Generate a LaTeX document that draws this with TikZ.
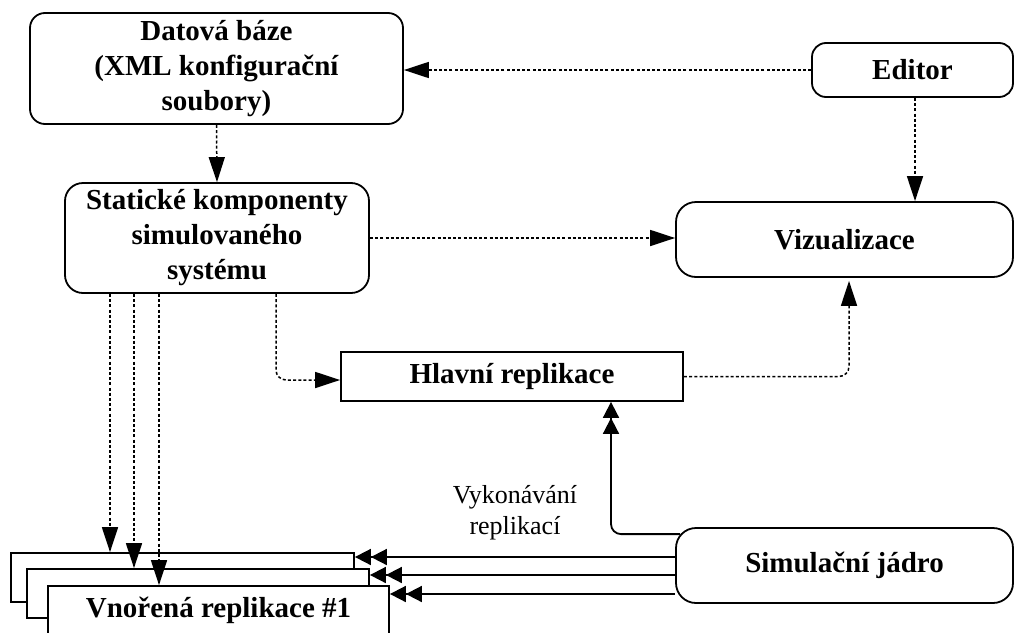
\documentclass[tikz,border=0pt]{standalone}
\usepackage{fontspec}
\setmainfont{Liberation Serif}
\usetikzlibrary{arrows.meta,calc}
\begin{document}
\begin{tikzpicture}[x=1pt,y=-1pt,
  box/.style={draw, line width=1.8pt, fill=white, inner sep=0pt, align=center,
              font=\fontsize{29}{35}\selectfont\bfseries},
  rbox/.style={box, rounded corners=#1},
  dotarrow/.style={line width=1.5pt, dash pattern=on 3pt off 2.2pt,
                   -{Triangle[length=25pt,width=16pt]}},
  dbl/.style={line width=1.8pt,
              -{Triangle[length=16pt,width=16pt]Triangle[length=16pt,width=16pt]}},
]
\useasboundingbox (0,0) rectangle (1014,632);

% components
\node[rbox=15pt, minimum width=373pt, minimum height=111pt] (db) at (216.5,68.5)
  {Datová báze\\(XML konfigurační\\soubory)};
\node[rbox=18pt, minimum width=304pt, minimum height=110pt] (st) at (217,238)
  {Statické komponenty\\simulovaného\\systému};
\node[rbox=14pt, minimum width=201pt, minimum height=54pt] (ed) at (912.5,70) {Editor};
\node[rbox=20pt, minimum width=337pt, minimum height=75pt] (vz) at (844.5,239.5) {Vizualizace};
\node[box, minimum width=342pt, minimum height=49pt] (hl) at (512,376.5) {Hlavní replikace};
\node[rbox=20pt, minimum width=337pt, minimum height=75pt] (sj) at (844.5,565.5) {Simulační jádro};

% stack of nested replications
\node[box, minimum width=343pt, minimum height=49pt] (vnA) at (182.5,577.5) {};
\node[box, minimum width=342pt, minimum height=49pt] (vnB) at (198,593.5) {};
\node[box, minimum width=341pt, minimum height=49pt] (vnC) at (218.5,610.5) {Vnořená replikace \#1};

\node[inner sep=0pt, align=center, font=\fontsize{26}{31}\selectfont] (lbl) at (515,513)
  {Vykonávání\\replikací};

% dotted data flows
\draw[dotarrow] (ed.west) -- (ed.west -| db.east);
\draw[dotarrow] (db.south) -- (st.north);
\draw[dotarrow] (st.east) -- (st.east -| vz.west);
\draw[dotarrow] ([xshift=2.5pt]ed.south) -- ([xshift=2.5pt]ed.south |- vz.north);
\draw[dotarrow, rounded corners=10pt] ([xshift=59pt]st.south) |- ([yshift=-3.5pt]hl.west);
\draw[dotarrow, rounded corners=10pt, shorten >=3pt] (hl.east) -| ([xshift=4.5pt]vz.south);
\draw[dotarrow] ([xshift=-107pt]st.south) -- ([xshift=-107pt]st.south |- vnA.north);
\draw[dotarrow] ([xshift=-83pt]st.south) -- ([xshift=-83pt]st.south |- vnB.north);
\draw[dotarrow] ([xshift=-58pt]st.south) -- ([xshift=-58pt]st.south |- vnC.north);

% control flows from the simulation core
\draw[dbl, rounded corners=10pt] ([shift={(5pt,-7pt)}]sj.north west) -| ([xshift=99pt]hl.south);
\draw[dbl] ([yshift=8.5pt]sj.west) -- ([yshift=8.5pt]sj.west -| vnA.east);
\draw[dbl] ([yshift=-9.5pt]sj.west) -- ([yshift=-9.5pt]sj.west -| vnB.east);
\draw[dbl] ([yshift=-28.5pt]sj.west) -- ([yshift=-28.5pt]sj.west -| vnC.east);
\end{tikzpicture}
\end{document}
